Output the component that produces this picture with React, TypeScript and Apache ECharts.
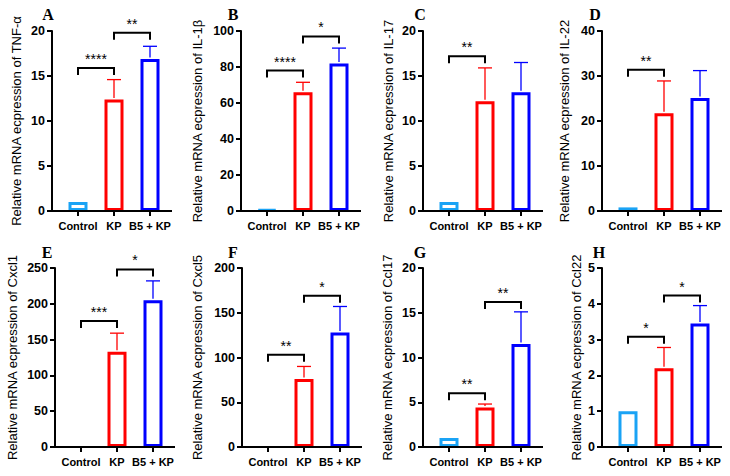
import React, { useEffect, useRef } from "react";
import * as echarts from "echarts";

// ---------- data ----------
const categories = ["Control", "KP", "B5 + KP"];
const panelLetters = ["A", "B", "C", "D", "E", "F", "G", "H"];
const genes = ["TNF-α", "IL-1β", "IL-17", "IL-22", "Cxcl1", "Cxcl5", "Ccl17", "Ccl22"];
const yMax = [20, 100, 20, 40, 250, 200, 20, 5];
const yInterval = [5, 20, 5, 10, 50, 50, 5, 1];

const meanTNFa = [1.0, 12.4, 16.9];
const errTNFa = [0, 2.2, 1.4];
const meanIL1b = [0.8, 66, 82];
const errIL1b = [0, 5.5, 8.5];
const meanIL17 = [1.0, 12.2, 13.2];
const errIL17 = [0, 3.7, 3.3];
const meanIL22 = [0.8, 21.7, 25.1];
const errIL22 = [0, 7.2, 6.1];
const meanCxcl1 = [null, 133, 205];
const errCxcl1 = [0, 26, 27];
const meanCxcl5 = [null, 76, 128];
const errCxcl5 = [0, 14, 29];
const meanCcl17 = [1.0, 4.4, 11.5];
const errCcl17 = [0, 0.4, 3.6];
const meanCcl22 = [1.0, 2.2, 3.45];
const errCcl22 = [0, 0.58, 0.5];

// significance brackets: [from category, to category, bracket height (data units), label]
const sigTNFa = [[0, 1, 15.9, "****"], [1, 2, 19.8, "**"]];
const sigIL1b = [[0, 1, 78, "****"], [1, 2, 97, "*"]];
const sigIL17 = [[0, 1, 17.2, "**"]];
const sigIL22 = [[0, 1, 31.4, "**"]];
const sigCxcl1 = [[0, 1, 176, "***"], [1, 2, 248, "*"]];
const sigCxcl5 = [[0, 1, 103, "**"], [1, 2, 169, "*"]];
const sigCcl17 = [[0, 1, 6.0, "**"], [1, 2, 16.2, "**"]];
const sigCcl22 = [[0, 1, 3.08, "*"], [1, 2, 4.23, "*"]];

const means: (number | null)[][] = [meanTNFa, meanIL1b, meanIL17, meanIL22, meanCxcl1, meanCxcl5, meanCcl17, meanCcl22];
const errs: number[][] = [errTNFa, errIL1b, errIL17, errIL22, errCxcl1, errCxcl5, errCcl17, errCcl22];
const sigs: any[][] = [sigTNFa, sigIL1b, sigIL17, sigIL22, sigCxcl1, sigCxcl5, sigCcl17, sigCcl22];

// ---------- layout / style ----------
const colors = ["#1aa3f5", "#ff0000", "#0000ff"];
const axisX = [52, 241, 423, 602, 55, 242, 423, 602];
const rowTop = [31, 268];
const rowHeight = [180, 179];
const gridInset = 8;
const gridWidth = 108;
const nameGaps = [29, 37, 28, 31, 36, 38, 29, 19];
const letterPos = [
  [48, 14], [233, 14], [420, 14], [595, 14],
  [47, 252], [233, 252], [420, 252], [599, 252],
];
const FONT = "'Liberation Sans', Arial, Helvetica, sans-serif";

function buildOption() {
  const grid: any[] = [];
  const xAxis: any[] = [];
  const yAxis: any[] = [];
  const series: any[] = [];

  for (let i = 0; i < 8; i++) {
    const row = i < 4 ? 0 : 1;
    grid.push({
      left: axisX[i] + gridInset,
      top: rowTop[row],
      width: gridWidth,
      height: rowHeight[row],
      containLabel: false,
    });
    xAxis.push({
      type: "category",
      gridIndex: i,
      data: categories,
      axisLine: { show: false },
      axisTick: { show: true, alignWithLabel: true, length: 5, lineStyle: { color: "#000", width: 2 } },
      axisLabel: { color: "#000", fontWeight: "bold", fontSize: 11, fontFamily: FONT, margin: 9, interval: 0 },
      splitLine: { show: false },
    });
    yAxis.push({
      type: "value",
      gridIndex: i,
      min: 0,
      max: yMax[i],
      interval: yInterval[i],
      offset: gridInset,
      name: "Relative mRNA ecpression of " + genes[i],
      nameLocation: "middle",
      nameGap: nameGaps[i],
      nameTextStyle: { color: "#000", fontSize: 13, fontFamily: FONT },
      axisLine: { show: true, lineStyle: { color: "#000", width: 2 } },
      axisTick: { show: true, length: 5, lineStyle: { color: "#000", width: 2 } },
      axisLabel: { color: "#000", fontWeight: "bold", fontSize: 12.5, fontFamily: FONT, margin: 7 },
      splitLine: { show: false },
    });

    // hollow bars
    series.push({
      type: "bar",
      xAxisIndex: i,
      yAxisIndex: i,
      barWidth: 19,
      z: 2,
      data: means[i].map((v, k) => ({
        value: v,
        itemStyle: { borderColor: colors[k] },
      })),
      itemStyle: { color: "rgba(255,255,255,0)", borderWidth: 3 },
    });

    // error bars (upper only)
    const errData = means[i]
      .map((v, k) => [k, v, errs[i][k]])
      .filter((d) => d[1] != null && (d[2] as number) > 0);
    series.push({
      type: "custom",
      xAxisIndex: i,
      yAxisIndex: i,
      clip: false,
      z: 3,
      data: errData,
      renderItem: (params: any, api: any) => {
        const k = api.value(0);
        const m = api.value(1);
        const e = api.value(2);
        const base = api.coord([k, m]);
        const top = api.coord([k, m + e]);
        const c = colors[k];
        return {
          type: "group",
          children: [
            { type: "line", shape: { x1: base[0], y1: base[1] - 1.5, x2: top[0], y2: top[1] }, style: { stroke: c, lineWidth: 1.3 } },
            { type: "line", shape: { x1: top[0] - 7, y1: top[1], x2: top[0] + 7, y2: top[1] }, style: { stroke: c, lineWidth: 1.3 } },
          ],
        };
      },
    });

    // significance brackets
    const sig = sigs[i];
    series.push({
      type: "custom",
      xAxisIndex: i,
      yAxisIndex: i,
      clip: false,
      z: 4,
      data: sig.map((s) => [s[0], s[1], s[2]]),
      renderItem: (params: any, api: any) => {
        const s = sig[params.dataIndex];
        const p1 = api.coord([api.value(0), api.value(2)]);
        const p2 = api.coord([api.value(1), api.value(2)]);
        const y = p1[1];
        return {
          type: "group",
          children: [
            {
              type: "polyline",
              shape: { points: [[p1[0], y + 7], [p1[0], y], [p2[0], y], [p2[0], y + 7]] },
              style: { stroke: "#000", lineWidth: 2, fill: "none" },
            },
            {
              type: "text",
              x: (p1[0] + p2[0]) / 2,
              y: y - 2,
              style: {
                text: s[3],
                fill: "#000",
                fontSize: 14,
                fontFamily: FONT,
                align: "center",
                verticalAlign: "bottom",
              },
            },
          ],
        };
      },
    });

    // x axis line extending past the y axis
    series.push({
      type: "custom",
      xAxisIndex: i,
      yAxisIndex: i,
      clip: false,
      z: 5,
      data: [[0, 0]],
      renderItem: (params: any) => {
        const cs = params.coordSys;
        const yb = cs.y + cs.height;
        return {
          type: "line",
          shape: { x1: cs.x - gridInset - 5, y1: yb, x2: cs.x + cs.width + 4, y2: yb },
          style: { stroke: "#000", lineWidth: 2 },
        };
      },
    });
  }

  const graphic = panelLetters.map((l, i) => ({
    type: "text",
    x: letterPos[i][0],
    y: letterPos[i][1],
    style: {
      text: l,
      fill: "#000",
      fontSize: 16,
      fontWeight: "bold",
      fontFamily: "'Liberation Serif', 'Times New Roman', serif",
      align: "center",
      verticalAlign: "middle",
    },
  }));

  return {
    animation: false,
    backgroundColor: "#fff",
    grid,
    xAxis,
    yAxis,
    series,
    graphic,
  };
}

export default function App() {
  const ref = useRef<HTMLDivElement>(null);
  useEffect(() => {
    document.body.style.margin = "0";
    const chart = echarts.init(ref.current as HTMLDivElement, null, { renderer: "svg" });
    chart.setOption(buildOption() as any);
    return () => chart.dispose();
  }, []);
  return <div ref={ref} style={{ width: 730, height: 476, position: "fixed", left: 0, top: 0 }} />;
}
